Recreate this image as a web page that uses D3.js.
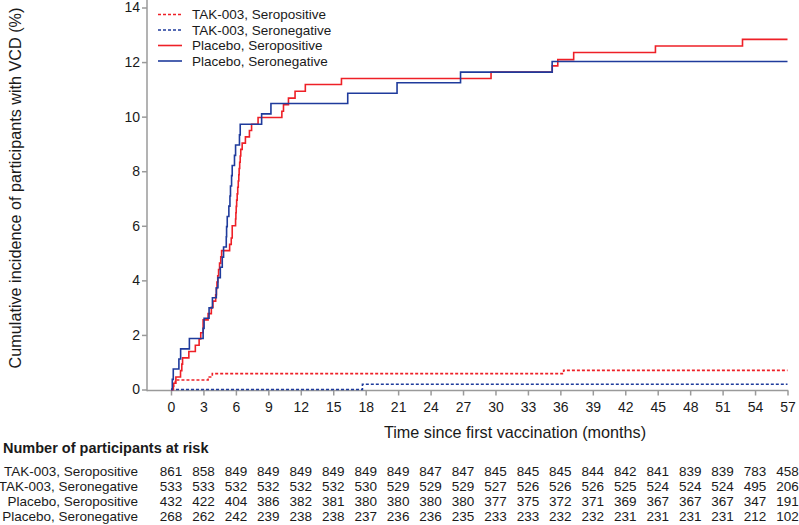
<!DOCTYPE html>
<html>
<head>
<meta charset="utf-8">
<script src="https://cdn.jsdelivr.net/npm/d3@7"></script>
<style>
  html, body { margin: 0; padding: 0; background: #fff; }
  svg { display: block; font-family: "Liberation Sans", Arial, sans-serif; }
</style>
</head>
<body>
<svg id="chart" width="799" height="525"></svg>
<script>
// ---- Data ----
const seriesNames = ["TAK-003, Seropositive", "TAK-003, Seronegative", "Placebo, Seropositive", "Placebo, Seronegative"];
const xTicks = [0, 3, 6, 9, 12, 15, 18, 21, 24, 27, 30, 33, 36, 39, 42, 45, 48, 51, 54, 57];
const yTicks = [0, 2, 4, 6, 8, 10, 12, 14];

// [month, cumulative incidence %]
const takSeroPos = [[0,0],[0.13,0.12],[0.25,0.23],[0.4,0.35],[3.43,0.46],[3.82,0.58],[36.3,0.7],[57,0.7]];
const takSeroNeg = [[0,0],[17.7,0.19],[57,0.19]];
const placeboSeroPos = [[0,0],[0.22,0.23],[0.45,0.46],[0.88,0.69],[1.0,0.93],[1.07,1.16],[1.65,1.39],[2.25,1.62],[2.6,1.85],[2.75,2.08],[2.97,2.55],[3.43,2.78],[3.73,3.01],[3.88,3.24],[4.13,3.47],[4.2,3.7],[4.25,3.94],[4.32,4.17],[4.4,4.4],[4.49,4.63],[4.6,4.86],[4.68,5.09],[5.42,5.32],[5.57,5.55],[5.66,6.0],[5.97,6.25],[6.0,6.48],[6.03,6.71],[6.07,6.94],[6.12,7.17],[6.17,7.41],[6.22,7.64],[6.27,7.87],[6.3,8.1],[6.35,8.33],[6.4,8.56],[6.45,8.8],[6.58,9.03],[6.88,9.26],[7.25,9.49],[7.45,9.72],[8.05,9.97],[10.25,10.2],[10.4,10.44],[10.86,10.68],[11.47,10.93],[12.42,11.18],[15.76,11.4],[29.59,11.63],[35.25,11.86],[35.76,12.09],[37.23,12.35],[44.79,12.59],[52.84,12.83],[57,12.83]];
const placeboSeroNeg = [[0,0],[0.12,0.37],[0.21,0.75],[0.73,1.12],[0.89,1.49],[1.7,1.87],[2.97,2.24],[3.06,2.61],[3.52,2.99],[3.83,3.36],[4.19,3.73],[4.34,4.1],[4.56,4.48],[4.74,4.85],[4.86,5.22],[5.11,5.6],[5.14,5.97],[5.2,6.34],[5.35,6.72],[5.45,7.09],[5.5,7.46],[5.6,7.84],[5.66,8.21],[5.87,8.58],[5.97,8.96],[6.33,9.33],[6.4,9.72],[8.38,10.1],[9.24,10.48],[16.34,10.86],[20.9,11.24],[26.77,11.63],[35.24,12.02],[57,12.02]];

const riskTakSeroPos = [861,858,849,849,849,849,849,849,847,847,845,845,845,844,842,841,839,839,783,458];
const riskTakSeroNeg = [533,533,532,532,532,532,530,529,529,529,527,526,526,526,525,524,524,524,495,206];
const riskPlaceboSeroPos = [432,422,404,386,382,381,380,380,380,380,377,375,372,371,369,367,367,367,347,191];
const riskPlaceboSeroNeg = [268,262,242,239,238,238,237,236,236,235,233,233,232,232,231,231,231,231,212,102];

const RED = "#ee2027", BLUE = "#1f3b9c", AXIS = "#9a9a9a", TEXT = "#1a1a1a";

const series = [
  { name: seriesNames[0], data: takSeroPos, color: RED, dash: "3,2" },
  { name: seriesNames[1], data: takSeroNeg, color: BLUE, dash: "3,2" },
  { name: seriesNames[2], data: placeboSeroPos, color: RED, dash: null },
  { name: seriesNames[3], data: placeboSeroNeg, color: BLUE, dash: null }
];
const riskRows = [riskTakSeroPos, riskTakSeroNeg, riskPlaceboSeroPos, riskPlaceboSeroNeg];

// ---- Scales ----
const x = d3.scaleLinear().domain([0, 57]).range([171, 787.5]);
const y = d3.scaleLinear().domain([0, 14]).range([389.5, 7.5]);

const svg = d3.select("#chart");

// ---- Axes ----
const axisX0 = 147, axisY0 = 390.5;
svg.append("line").attr("x1", axisX0).attr("x2", axisX0).attr("y1", 0).attr("y2", axisY0 + 0.75)
  .attr("stroke", AXIS).attr("stroke-width", 1.5);
svg.append("line").attr("x1", axisX0).attr("x2", x(57) + 0.75).attr("y1", axisY0).attr("y2", axisY0)
  .attr("stroke", AXIS).attr("stroke-width", 1.5);

const gx = svg.append("g").attr("transform", `translate(0,${axisY0})`)
  .call(d3.axisBottom(x).tickValues(xTicks).tickSize(5).tickPadding(7).tickFormat(d3.format("d")));
gx.select(".domain").remove();
gx.selectAll(".tick line").attr("stroke", AXIS).attr("stroke-width", 1.5);
gx.selectAll(".tick text").attr("fill", TEXT).style("font-size", "14px");

const gy = svg.append("g").attr("transform", `translate(${axisX0},0)`)
  .call(d3.axisLeft(y).tickValues(yTicks).tickSize(5).tickPadding(2).tickFormat(d3.format("d")));
gy.select(".domain").remove();
gy.selectAll(".tick line").attr("stroke", AXIS).attr("stroke-width", 1.5);
gy.selectAll(".tick text").attr("fill", TEXT).style("font-size", "14px");

// ---- Axis titles ----
svg.append("text").attr("x", 515).attr("y", 438).attr("text-anchor", "middle")
  .attr("fill", TEXT).style("font-size", "16.2px").text("Time since first vaccination (months)");
svg.append("text").attr("transform", "translate(21,188) rotate(-90)").attr("text-anchor", "middle")
  .attr("fill", TEXT).style("font-size", "16.2px").text("Cumulative incidence of participants with VCD (%)");

// ---- Curves ----
const line = d3.line().x(d => x(d[0])).y(d => y(d[1])).curve(d3.curveStepAfter);
svg.append("g").selectAll("path").data(series).join("path")
  .attr("d", d => line(d.data))
  .attr("fill", "none")
  .attr("stroke", d => d.color)
  .attr("stroke-width", 1.6)
  .attr("stroke-dasharray", d => d.dash);

// ---- Legend ----
const legendY = [14.5, 30, 45.5, 61];
const leg = svg.append("g").selectAll("g").data(series).join("g")
  .attr("transform", (d, i) => `translate(0,${legendY[i]})`);
leg.append("line").attr("x1", 158).attr("x2", 182).attr("y1", 0).attr("y2", 0)
  .attr("stroke", d => d.color).attr("stroke-width", 1.6).attr("stroke-dasharray", d => d.dash);
leg.append("text").attr("x", 192).attr("y", 4.8).attr("fill", TEXT).style("font-size", "13.5px").text(d => d.name);

// ---- Risk table ----
svg.append("text").attr("x", 3).attr("y", 453).attr("fill", TEXT).style("font-size", "14.5px")
  .style("font-weight", "bold").text("Number of participants at risk");
const rowY = [475.7, 490.7, 505.7, 520.7];
const rows = svg.append("g").selectAll("g").data(riskRows).join("g")
  .attr("transform", (d, i) => `translate(0,${rowY[i]})`);
rows.append("text").attr("x", 138).attr("text-anchor", "end").attr("fill", TEXT)
  .style("font-size", "13.5px").text((d, i) => seriesNames[i]);
rows.selectAll("text.n").data(d => d).join("text").attr("class", "n")
  .attr("x", (d, j) => x(xTicks[j])).attr("text-anchor", "middle").attr("fill", TEXT)
  .style("font-size", "13.5px").text(d => d);
</script>
</body>
</html>
